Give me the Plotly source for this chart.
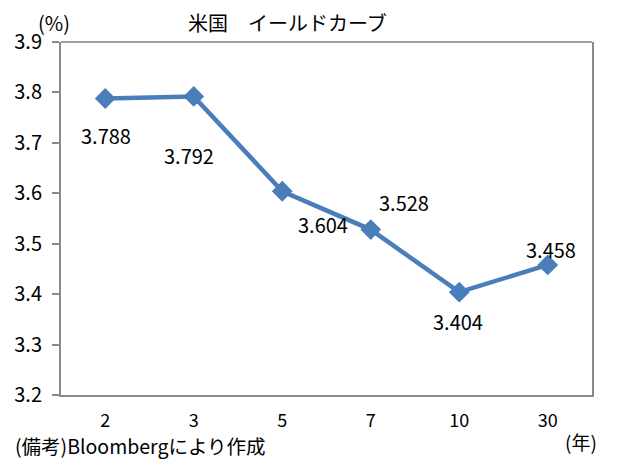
import plotly.graph_objects as go

# 米国イールドカーブ（年限別利回り）
maturities = ["2", "3", "5", "7", "10", "30"]
yields = [3.788, 3.792, 3.604, 3.528, 3.404, 3.458]
y_ticks = [3.2, 3.3, 3.4, 3.5, 3.6, 3.7, 3.8, 3.9]

# label offsets (pixels) relative to each point
label_shift = [(1, -37), (-5, -59), (41, -33), (33, 27), (-1, -29), (3, 15)]

FONT = "Noto Sans CJK JP, Noto Sans, sans-serif"
LINE_COLOR = "#4A7EBB"
AXIS_COLOR = "#8a8a8a"

fig = go.Figure()
fig.add_trace(go.Scatter(
    x=maturities, y=yields, mode="lines+markers",
    line=dict(color=LINE_COLOR, width=4.5),
    marker=dict(symbol="diamond", size=16, color=LINE_COLOR),
    hoverinfo="x+y", showlegend=False,
))

# category axis: annotations are placed by category index
for i, (v, (dx, dy)) in enumerate(zip(yields, label_shift)):
    fig.add_annotation(x=i, y=v, text=f"{v:.3f}", showarrow=False,
                       xshift=dx, yshift=dy,
                       font=dict(family=FONT, size=20, color="#000"))

fig.add_annotation(xref="paper", yref="paper", x=-0.013, y=1.055, text="(%)",
                   showarrow=False, xanchor="center", yanchor="middle",
                   font=dict(family=FONT, size=20, color="#000"))
fig.add_annotation(xref="paper", yref="paper", x=0.235, y=1.055, text="米国　イールドカーブ",
                   showarrow=False, xanchor="left", yanchor="middle",
                   font=dict(family=FONT, size=20, color="#000"))
fig.add_annotation(xref="paper", yref="paper", x=0.979, y=-0.133, text="(年)",
                   showarrow=False, xanchor="center", yanchor="middle",
                   font=dict(family=FONT, size=19, color="#000"))
fig.add_annotation(xref="paper", yref="paper", x=-0.09, y=-0.142, text="(備考)Bloombergにより作成",
                   showarrow=False, xanchor="left", yanchor="middle",
                   font=dict(family=FONT, size=19.5, color="#000"))

# dark top border of the plot area
fig.add_shape(type="line", xref="paper", yref="paper", x0=0, x1=1, y0=1, y1=1,
              line=dict(color="#404040", width=1))

fig.update_xaxes(
    type="category", range=[-0.5, len(maturities) - 0.5], automargin=False,
    showline=True, linecolor=AXIS_COLOR, linewidth=2,
    ticks="", ticklabelstandoff=8, showgrid=False,
    tickfont=dict(family=FONT, size=18, color="#000"),
)
fig.update_yaxes(
    range=[3.2, 3.9], tickvals=y_ticks, ticktext=[f"{t:.1f}" for t in y_ticks],
    automargin=False,
    showline=True, mirror=True, linecolor=AXIS_COLOR, linewidth=2,
    ticks="outside", ticklen=7, tickcolor=AXIS_COLOR, tickwidth=1.5,
    ticklabelstandoff=6, showgrid=False, zeroline=False,
    tickfont=dict(family=FONT, size=20, color="#000"),
)

# the page body adds an 8px offset, so the figure is 8px smaller than the window
fig.update_layout(
    width=612, height=467,
    margin=dict(l=53, r=28, t=34, b=80),
    paper_bgcolor="white", plot_bgcolor="white",
)

fig.write_html("out.html")
